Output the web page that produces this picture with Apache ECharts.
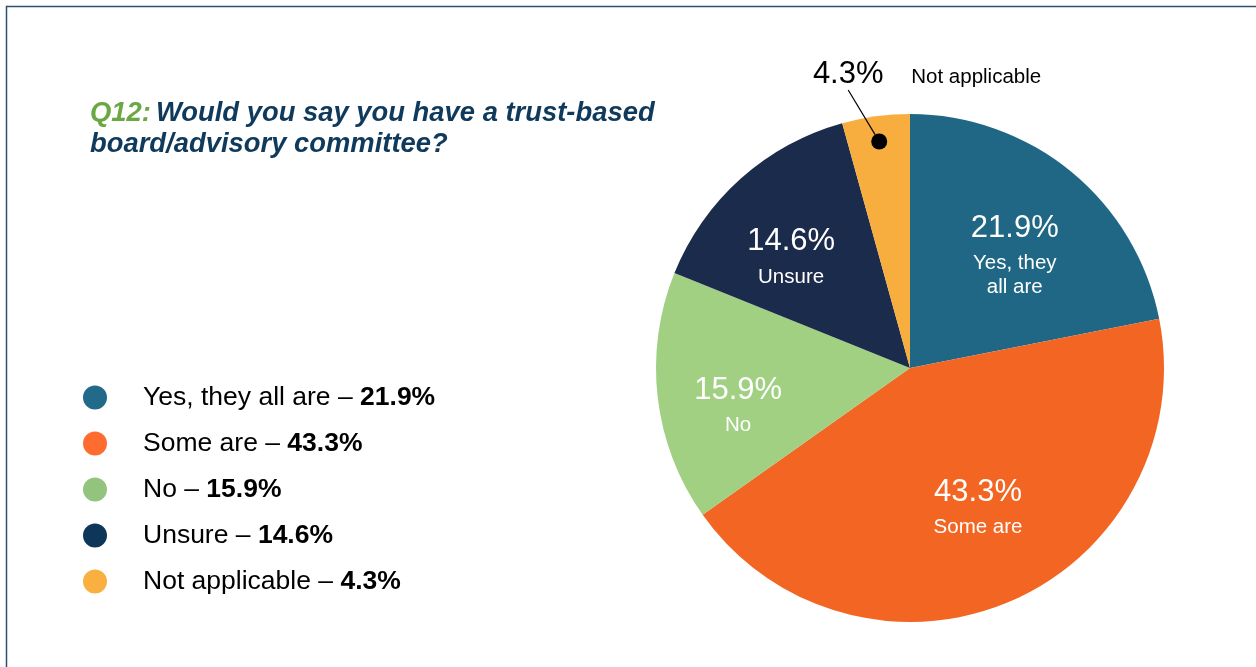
<!DOCTYPE html>
<html>
<head>
<meta charset="utf-8">
<style>
  html, body { margin: 0; padding: 0; background: #ffffff; }
  #chart { width: 1256px; height: 667px; }
</style>
<script src="https://cdn.jsdelivr.net/npm/echarts@6/dist/echarts.min.js"></script>
</head>
<body>
<div id="chart"></div>
<script>
// Survey answers and their shares (%)
const categories = ['Yes, they all are', 'Some are', 'No', 'Unsure', 'Not applicable'];
const sliceNames = ['Yes, they\nall are', 'Some are', 'No', 'Unsure', 'Not applicable'];
const values = [21.9, 43.3, 15.9, 14.6, 4.3];
const pieColors = ['#1f6784', '#f26522', '#a1d083', '#1b2b4b', '#f7ae3e'];
const legendColors = ['#216a8a', '#ff6c2f', '#93c47d', '#0d3658', '#f9b041'];
const titleQ = 'Q12:';
const titleLines = ['Would you say you have a trust-based', 'board/advisory committee?'];

// Index of the slice whose label sits outside the pie with a pointer
const calloutIndex = 4;

const FONT = '"Liberation Sans", Arial, sans-serif';
const CENTER = [910, 368];
const RADIUS = 254;
// small hand adjustments of the in-slice labels, in pixels
const LABEL_NUDGE = [[0, 12], [3, -15], [-8, 15], [-9, 9], [0, 0]];

// cumulative midpoint (in % of the full circle) of the callout slice
const total = values.reduce((a, b) => a + b, 0);
let before = 0;
for (let i = 0; i < calloutIndex; i++) before += values[i];
const calloutMid = (before + values[calloutIndex] / 2) / total * 100;

const chart = echarts.init(document.getElementById('chart'), null, { renderer: 'canvas' });

const option = {
  animation: false,
  backgroundColor: '#ffffff',
  textStyle: { fontFamily: FONT },
  graphic: [{
    type: 'rect',
    silent: true,
    z: 0,
    shape: { x: 6.5, y: 6.5, width: 1320, height: 720 },
    style: { fill: 'none', stroke: '#2c5073', lineWidth: 1.5 }
  }],
  title: {
    left: 90,
    top: 98,
    padding: 0,
    text: '{q|' + titleQ + '} {t|' + titleLines[0] + '}\n{t|' + titleLines[1] + '}',
    textStyle: {
      fontFamily: FONT,
      rich: {
        q: { fontSize: 27.4, fontWeight: 'bold', fontStyle: 'italic', color: '#6aa843', lineHeight: 31, fontFamily: FONT },
        t: { fontSize: 27.4, fontWeight: 'bold', fontStyle: 'italic', color: '#0f3a5c', lineHeight: 31, fontFamily: FONT }
      }
    }
  },
  legend: {
    orient: 'vertical',
    left: 83,
    top: 384,
    padding: 0,
    icon: 'circle',
    itemWidth: 24,
    itemHeight: 24,
    itemGap: 19,
    selectedMode: false,
    data: categories.map((c, i) => ({ name: c, itemStyle: { color: legendColors[i] } })),
    formatter: function (name) {
      const i = categories.indexOf(name);
      return '{sp| }{n|' + name + ' – }{b|' + values[i].toFixed(1) + '%}';
    },
    textStyle: {
      fontFamily: FONT,
      rich: {
        sp: { width: 31, fontSize: 26.5, lineHeight: 24 },
        n: { fontSize: 26.5, color: '#000000', lineHeight: 24, fontFamily: FONT },
        b: { fontSize: 26.5, color: '#000000', fontWeight: 'bold', lineHeight: 24, fontFamily: FONT }
      }
    }
  },
  polar: { center: CENTER, radius: RADIUS },
  angleAxis: { type: 'value', min: 0, max: 100, startAngle: 90, show: false },
  radiusAxis: { type: 'value', min: 0, max: 1, show: false },
  series: [
    {
      // filled slices
      type: 'pie',
      center: CENTER,
      radius: [0, RADIUS],
      startAngle: 90,
      clockwise: true,
      silent: true,
      label: { show: false },
      labelLine: { show: false },
      emphasis: { disabled: true },
      data: categories.map((c, i) => ({ name: c, value: values[i], itemStyle: { color: pieColors[i] } }))
    },
    {
      // transparent ring carrying the in-slice labels
      type: 'pie',
      center: CENTER,
      radius: [70, RADIUS],
      startAngle: 90,
      clockwise: true,
      silent: true,
      z: 3,
      itemStyle: { color: 'rgba(0,0,0,0)' },
      emphasis: { disabled: true },
      labelLine: { show: false },
      label: {
        show: true,
        position: 'inside',
        align: 'center',
        formatter: function (p) {
          return '{p|' + p.value.toFixed(1) + '%}\n{n|' + sliceNames[p.dataIndex] + '}';
        },
        rich: {
          p: { fontSize: 31, color: '#ffffff', lineHeight: 46, align: 'center', fontFamily: FONT },
          n: { fontSize: 20.5, color: '#ffffff', lineHeight: 24, align: 'center', fontFamily: FONT }
        }
      },
      labelLayout: function (params) {
        const d = LABEL_NUDGE[params.dataIndex];
        return { dx: d[0], dy: d[1] };
      },
      data: categories.map((c, i) => ({
        name: c,
        value: values[i],
        label: { show: i !== calloutIndex }
      }))
    },
    {
      // pointer dot and value for the small slice
      type: 'scatter',
      coordinateSystem: 'polar',
      symbol: 'circle',
      symbolSize: 16,
      silent: true,
      z: 5,
      itemStyle: { color: '#000000', opacity: 1 },
      label: {
        show: true,
        position: 'inside',
        color: '#000000',
        fontSize: 31,
        fontFamily: FONT,
        formatter: function () { return values[calloutIndex].toFixed(1) + '%'; }
      },
      labelLayout: { dx: -31, dy: -67 },
      labelLine: { show: true, lineStyle: { color: '#000000', width: 1.2, opacity: 1 } },
      data: [[0.9, calloutMid]]
    },
    {
      // name of the small slice
      type: 'scatter',
      coordinateSystem: 'polar',
      symbol: 'circle',
      symbolSize: 1,
      silent: true,
      z: 5,
      itemStyle: { color: 'rgba(0,0,0,0)', opacity: 1 },
      label: {
        show: true,
        position: 'inside',
        color: '#000000',
        fontSize: 20.5,
        fontFamily: FONT,
        formatter: function () { return categories[calloutIndex]; }
      },
      labelLayout: { dx: 97, dy: -64 },
      data: [[0.9, calloutMid]]
    }
  ]
};

chart.setOption(option);
</script>
</body>
</html>
